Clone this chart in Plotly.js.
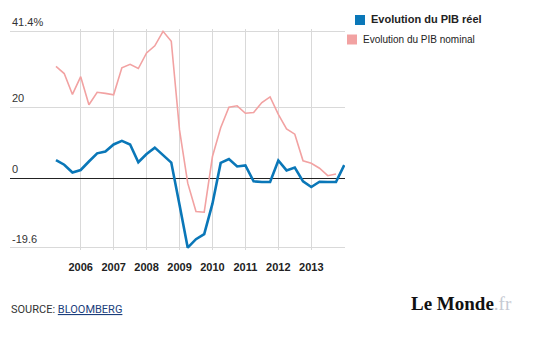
<!DOCTYPE html>
<html>
<head>
<meta charset="utf-8">
<script src="https://cdn.plot.ly/plotly-3.0.1.min.js"></script>
<style>html,body{margin:0;padding:0;background:#fff;}#chart{width:554px;height:338px;}</style>
</head>
<body>
<div id="chart"></div>
<script>
// Quarterly data, 2005 Q1 .. 2013 Q4 (plotted at quarter end)
const quarters = ['2005T1','2005T2','2005T3','2005T4','2006T1','2006T2','2006T3','2006T4',
  '2007T1','2007T2','2007T3','2007T4','2008T1','2008T2','2008T3','2008T4',
  '2009T1','2009T2','2009T3','2009T4','2010T1','2010T2','2010T3','2010T4',
  '2011T1','2011T2','2011T3','2011T4','2012T1','2012T2','2012T3','2012T4',
  '2013T1','2013T2','2013T3','2013T4'];
const pibReel = [5.1, 3.8, 1.6, 2.3, 4.7, 7.0, 7.5, 9.5, 10.5, 9.5, 4.5, 6.8, 8.6, 6.5, 4.4, -7.5,
  -19.6, -17.2, -15.8, -7.2, 4.3, 5.4, 3.3, 3.6, -0.9, -1.1, -1.1, 5.0, 2.2, 3.0, -0.9, -2.5,
  -1.0, -1.1, -1.1, 3.7];
const pibNominal = [31.5, 29.5, 23.6, 28.6, 20.7, 24.2, 23.9, 23.5, 31.1, 32.1, 30.9, 35.3, 37.3, 41.4, 38.6, 13.6,
  -1.4, -9.4, -9.6, 6.1, 14.2, 20.0, 20.4, 18.3, 18.5, 21.3, 22.9, 18.0, 13.9, 12.4, 4.9, 4.2,
  2.8, 0.7, 1.2];
const yearTicks = [2006, 2007, 2008, 2009, 2010, 2011, 2012, 2013];
const yearLabels = ['2006', '2007', '2008', '2009', '2010', '2011', '2012', '2013'];
const yTickVals = [41.4, 20, 0, -19.6];
const yTickText = ['41.4%', '20', '0', '-19.6'];
const seriesNames = ['Evolution du PIB réel', 'Evolution du PIB nominal'];
const seriesColors = ['#0a77b8', '#f2a2a2'];

// quarter -> decimal year at quarter end
function qToX(q) { const y = +q.slice(0, 4), n = +q.slice(5); return y + n * 0.25; }
const xs = quarters.map(qToX);

// pixel helpers for layout decorations
const PL = 10, PR = 345, PT = 29, PB = 250;
const px = x => (x - PL) / (PR - PL);
const py = y => (PB - y) / (PB - PT);

const traces = [
  { x: xs.slice(0, pibNominal.length), y: pibNominal, type: 'scatter', mode: 'lines', name: seriesNames[1],
    line: { color: seriesColors[1], width: 1.6 }, hoverinfo: 'skip' },
  { x: xs, y: pibReel, type: 'scatter', mode: 'lines', name: seriesNames[0],
    line: { color: seriesColors[0], width: 2.6 }, hoverinfo: 'skip' }
];

const annotations = yTickVals.map((v, i) => ({
  xref: 'paper', yref: 'y', x: 0, y: v, xanchor: 'left', yanchor: 'bottom', yshift: 1,
  text: yTickText[i], showarrow: false, font: { family: 'Arial, Liberation Sans', size: 11, color: '#333' }
}));

annotations.push(
  { xref: 'paper', yref: 'paper', x: px(368.5), y: py(19.5), xanchor: 'left', yanchor: 'middle',
    text: '<b>' + seriesNames[0] + '</b>', showarrow: false,
    font: { family: 'Arial, Liberation Sans', size: 11, color: '#222' } },
  { xref: 'paper', yref: 'paper', x: px(360.5), y: py(39.5), xanchor: 'left', yanchor: 'middle',
    text: seriesNames[1], showarrow: false,
    font: { family: 'Arial, Liberation Sans', size: 10, color: '#222' } },
  { xref: 'paper', yref: 'paper', x: px(8.5), y: py(309.5), xanchor: 'left', yanchor: 'middle',
    text: 'SOURCE: <span style="color:#1b3e7c"><u>BLOOMBERG</u></span>', showarrow: false,
    font: { family: 'Roboto', size: 11, color: '#333' } },
  { xref: 'paper', yref: 'paper', x: px(409), y: py(303), xanchor: 'left', yanchor: 'middle',
    text: '<b>Le Monde</b><span style="color:#c6cad3">.fr</span>', showarrow: false,
    font: { family: 'Liberation Serif', size: 19, color: '#111' } }
);

const shapes = [
  { type: 'rect', xref: 'paper', yref: 'paper', x0: px(355), x1: px(365), y0: py(25), y1: py(15),
    fillcolor: seriesColors[0], line: { width: 0 } },
  { type: 'rect', xref: 'paper', yref: 'paper', x0: px(347), x1: px(357), y0: py(44.5), y1: py(34.5),
    fillcolor: seriesColors[1], line: { width: 0 } }
];

const layout = {
  width: 554, height: 338,
  margin: { l: PL, r: 554 - PR, t: PT, b: 338 - PB, pad: 0 },
  paper_bgcolor: '#fff', plot_bgcolor: '#fff',
  showlegend: false,
  xaxis: {
    range: [2003.854, 2014.024], tickvals: yearTicks, ticktext: yearLabels,
    showgrid: true, gridcolor: '#d9d9d9', gridwidth: 1, zeroline: false, showline: false,
    ticks: '', ticklabelstandoff: 9,
    tickfont: { family: 'Arial, Liberation Sans', size: 11, color: '#222', weight: 'bold' },
    fixedrange: true
  },
  yaxis: {
    range: [-20.25, 42.05], tickvals: yTickVals, showticklabels: false,
    showgrid: true, gridcolor: '#d9d9d9', gridwidth: 1,
    zeroline: true, zerolinecolor: '#222', zerolinewidth: 1, showline: false, ticks: '',
    fixedrange: true
  },
  annotations: annotations,
  shapes: shapes
};

Plotly.newPlot('chart', traces, layout, { displayModeBar: false, staticPlot: true });
</script>
</body>
</html>
